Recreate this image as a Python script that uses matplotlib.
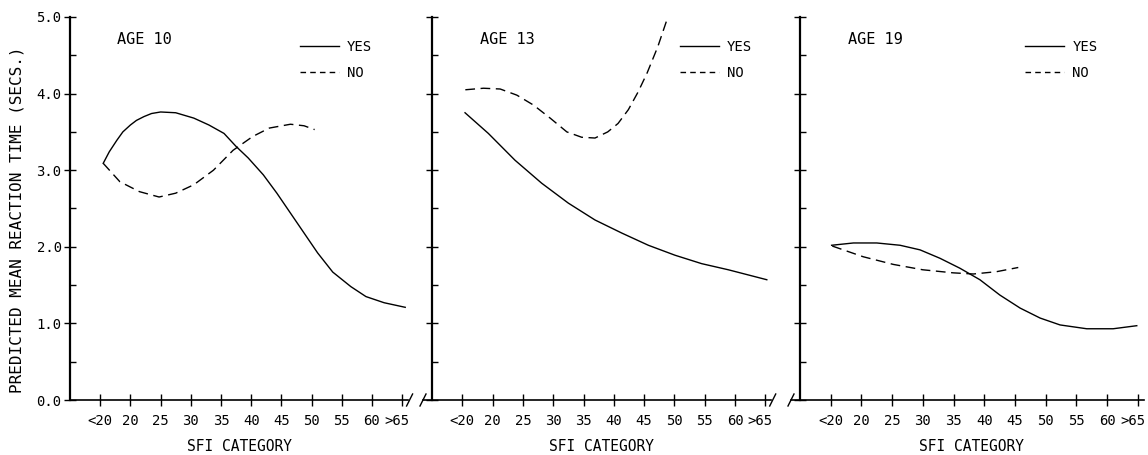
import numpy as np
import matplotlib
matplotlib.use("Agg")
import matplotlib.pyplot as plt
import matplotlib.transforms as mtransforms
from matplotlib.lines import Line2D

plt.rcParams['font.family'] = ['DejaVu Sans Mono', 'DejaVu Sans']

categories = ['<20', '20', '25', '30', '35', '40', '45', '50', '55', '60', '>65']
ages = ['AGE 10', 'AGE 13', 'AGE 19']

# values, x in category steps (1 = "<20", 11 = ">65")
yes10_x = [1.1, 1.3, 1.55, 1.75, 2.0, 2.2, 2.45, 2.7, 3.0, 3.5, 4.1, 4.6, 5.1, 5.5, 5.9, 6.4, 6.85, 7.3, 7.75, 8.2, 8.7, 9.3, 9.8, 10.4, 11.1]
yes10_y = [3.09, 3.24, 3.39, 3.50, 3.59, 3.65, 3.70, 3.74, 3.76, 3.75, 3.68, 3.59, 3.48, 3.31, 3.16, 2.94, 2.70, 2.44, 2.18, 1.92, 1.67, 1.48, 1.35, 1.27, 1.21]
no10_x = [1.1, 1.65, 2.3, 2.95, 3.5, 4.1, 4.75, 5.4, 6.05, 6.6, 7.3, 7.75, 8.1]
no10_y = [3.09, 2.85, 2.72, 2.65, 2.70, 2.81, 3.00, 3.26, 3.44, 3.55, 3.60, 3.58, 3.53]

yes13_x = [1.09, 1.86, 2.74, 3.62, 4.5, 5.38, 6.26, 7.14, 8.02, 8.9, 9.78, 10.66, 11.05]
yes13_y = [3.75, 3.48, 3.13, 2.83, 2.57, 2.35, 2.18, 2.02, 1.89, 1.78, 1.70, 1.61, 1.57]
no13_x = [1.1, 1.7, 2.25, 2.8, 3.35, 3.9, 4.45, 4.94, 5.38, 5.8, 6.14, 6.48, 6.8, 7.1, 7.45, 7.75]
no13_y = [4.05, 4.07, 4.06, 3.98, 3.85, 3.68, 3.50, 3.43, 3.42, 3.50, 3.61, 3.79, 4.02, 4.27, 4.61, 4.96]

yes19_x = [1.03, 1.74, 2.5, 3.26, 3.91, 4.56, 5.21, 5.86, 6.51, 7.17, 7.82, 8.47, 9.34, 10.2, 10.97]
yes19_y = [2.02, 2.05, 2.05, 2.02, 1.96, 1.85, 1.72, 1.57, 1.37, 1.20, 1.07, 0.98, 0.93, 0.93, 0.97]
no19_x = [1.05, 2.06, 3.04, 4.0, 4.99, 5.65, 6.4, 7.11]
no19_y = [2.01, 1.87, 1.77, 1.70, 1.66, 1.645, 1.675, 1.73]

W, H = 1148, 455
fig = plt.figure(figsize=(W / 100, H / 100), dpi=100)

# panel placement in pixels: left edge, px per category step, legend x
lefts = [70, 432, 800]
steps = [30.2, 30.3, 30.7]
leg_x = [0.68, 0.73, 0.655]
xmax = 11.2
y0, y5 = 400, 17

curves = [(yes10_x, yes10_y, no10_x, no10_y),
          (yes13_x, yes13_y, no13_x, no13_y),
          (yes19_x, yes19_y, no19_x, no19_y)]

for i in range(3):
    wpx = xmax * steps[i]
    ax = fig.add_axes([lefts[i] / W, (H - y0) / H, wpx / W, (y0 - y5) / H])
    yx, yy, nx, ny = curves[i]
    ax.plot(yx, yy, color='black', lw=1.0, solid_joinstyle='round')
    ax.plot(nx, ny, color='black', lw=1.0, ls=(0, (7, 4)))

    ax.set_xlim(0, xmax)
    ax.set_ylim(0, 5)
    ax.spines['top'].set_visible(False)
    ax.spines['right'].set_visible(False)
    ax.spines['left'].set_linewidth(1.6)
    ax.spines['bottom'].set_linewidth(1.2)

    ax.set_xticks(np.arange(1, 12))
    ax.set_xticklabels(categories)
    ax.tick_params(axis='x', direction='inout', length=8, width=1.0, pad=6, labelsize=10)
    # ">65" sits tight against "60" in the original
    last = ax.get_xticklabels()[-1]
    last.set_transform(last.get_transform() + mtransforms.ScaledTranslation(-5 / 100, 0, fig.dpi_scale_trans))
    ax.set_yticks(np.arange(0, 6))
    ax.set_yticks(np.arange(0.5, 5, 1.0), minor=True)
    ax.tick_params(axis='y', which='major', direction='inout', length=8, width=1.0, labelsize=10, pad=2)
    ax.tick_params(axis='y', which='minor', direction='in', length=4, width=1.0)
    if i == 0:
        ax.set_yticklabels(['%.1f' % v for v in range(6)])
        ax.set_ylabel('PREDICTED MEAN REACTION TIME (SECS.)', fontsize=11.5)
        ax.yaxis.set_label_coords(-0.135, 0.47)
    else:
        ax.set_yticklabels([])
    ax.set_xlabel('SFI CATEGORY', fontsize=10.5, labelpad=8)

    ax.text(0.14, 0.94, ages[i], transform=ax.transAxes, fontsize=11, va='center', ha='left')

    handles = [Line2D([], [], color='black', lw=1.0),
               Line2D([], [], color='black', lw=1.0, ls=(0, (4, 3)))]
    ax.legend(handles, ['YES', 'NO'], loc='upper left', bbox_to_anchor=(leg_x[i], 0.94),
              frameon=False, fontsize=10, handlelength=2.8, handletextpad=0.6,
              labelspacing=0.85, borderpad=0, borderaxespad=0)

    # axis break marks
    dx, dy = 3.0 / wpx, 6.0 / (y0 - y5)
    if i < 2:
        ax.plot([1 - dx + 0.004, 1 + dx + 0.004], [-dy, dy], color='black', lw=1.0,
                transform=ax.transAxes, clip_on=False)
    if i > 0:
        sx = -9.0 / wpx
        ax.plot([sx, 0], [0, 0], color='black', lw=1.2, transform=ax.transAxes, clip_on=False)
        ax.plot([sx - dx, sx + dx], [-dy, dy], color='black', lw=1.0,
                transform=ax.transAxes, clip_on=False)

fig.savefig('out.png', dpi=100)
